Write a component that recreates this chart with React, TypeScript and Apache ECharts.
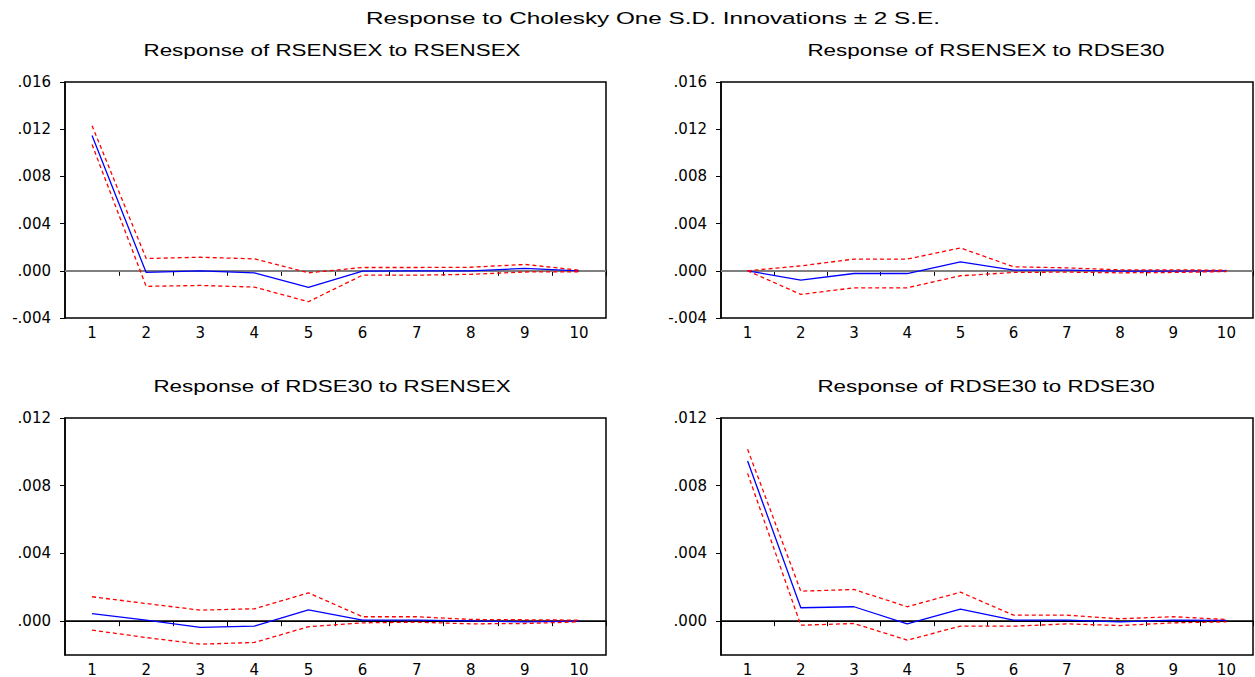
import React, { useEffect, useRef } from 'react';
import * as echarts from 'echarts';

const periods = ['1', '2', '3', '4', '5', '6', '7', '8', '9', '10'];

const mainTitle = 'Response to Cholesky One S.D. Innovations \u00b1 2 S.E.';
const panelTitles = [
  'Response of RSENSEX to RSENSEX',
  'Response of RSENSEX to RDSE30',
  'Response of RDSE30 to RSENSEX',
  'Response of RDSE30 to RDSE30',
];

// Panel 1: RSENSEX to RSENSEX
const p1Resp = [0.01146, -0.00014, 0.0, -0.00017, -0.0014, -0.00003, 0.0, 0.0, 0.0002, 0.0];
const p1Upper = [0.0123, 0.00104, 0.00115, 0.00101, -0.00017, 0.00028, 0.00028, 0.0003, 0.00054, 0.00005];
const p1Lower = [0.0107, -0.00132, -0.00124, -0.00138, -0.00262, -0.00037, -0.00037, -0.0003, -0.0001, -0.00008];

// Panel 2: RSENSEX to RDSE30
const p2Resp = [0.0, -0.00079, -0.00023, -0.00023, 0.00076, 0.00006, 0.00006, -0.00003, -0.00003, 0.0];
const p2Upper = [0.0, 0.00042, 0.00099, 0.00099, 0.00194, 0.00034, 0.00025, 0.00008, 0.00008, 0.00005];
const p2Lower = [0.0, -0.002, -0.00144, -0.00144, -0.00042, -0.00014, -0.00011, -0.00017, -0.00014, -0.00006];

// Panel 3: RDSE30 to RSENSEX
const p3Resp = [0.00045, 0.00006, -0.00037, -0.0003, 0.00067, 0.00006, 0.00006, 0.00002, -0.00004, 0.0];
const p3Upper = [0.00144, 0.00104, 0.00065, 0.00073, 0.00167, 0.00026, 0.00026, 0.0001, 0.00008, 0.00006];
const p3Lower = [-0.00053, -0.00097, -0.00136, -0.00126, -0.00033, -0.0001, -0.00006, -0.00016, -0.00014, -0.00004];

// Panel 4: RDSE30 to RDSE30
const p4Resp = [0.00946, 0.00079, 0.00085, -0.00016, 0.00071, 0.00006, 0.00006, -0.00004, 0.00006, 0.00004];
const p4Upper = [0.01015, 0.00177, 0.00187, 0.00085, 0.00171, 0.00035, 0.00035, 0.00014, 0.00026, 0.0001];
const p4Lower = [0.00873, -0.00024, -0.00014, -0.00112, -0.0003, -0.0003, -0.00016, -0.00026, -0.0001, -0.00004];

const bottomTicks = [0, 0.004, 0.008, 0.012];

const panels = [
  { resp: p1Resp, upper: p1Upper, lower: p1Lower },
  { resp: p2Resp, upper: p2Upper, lower: p2Lower },
  { resp: p3Resp, upper: p3Upper, lower: p3Lower },
  { resp: p4Resp, upper: p4Upper, lower: p4Lower },
];

const gridBoxes = [
  { left: 65, top: 82, width: 541, height: 236 },
  { left: 721, top: 82, width: 532, height: 236 },
  { left: 65, top: 418, width: 541, height: 237 },
  { left: 721, top: 418, width: 532, height: 237 },
];

const fmt = (v: number) => {
  if (Math.abs(v) < 1e-12) return '.000';
  return v.toFixed(3).replace('0.', '.');
};

const labelFont = 'DejaVu Sans';
const titleFont = 'Liberation Sans';

export default function App() {
  const ref = useRef<HTMLDivElement>(null);

  useEffect(() => {
    if (!ref.current) return;
    const chart = echarts.init(ref.current, undefined, { renderer: 'svg' });

    const grids: any[] = [];
    const xAxes: any[] = [];
    const yAxes: any[] = [];
    const series: any[] = [];

    panels.forEach((p, i) => {
      const top = i < 2;
      grids.push({
        ...gridBoxes[i],
        show: true,
        borderColor: '#000',
        borderWidth: 1.5,
        backgroundColor: 'transparent',
        containLabel: false,
      });
      xAxes.push({
        type: 'category',
        gridIndex: i,
        data: periods,
        boundaryGap: true,
        axisLine: { show: true, lineStyle: { color: '#000', width: 1.5 } },
        axisTick: { show: true, inside: false, length: 5, lineStyle: { color: '#000', width: 1 } },
        axisLabel: { color: '#000', fontFamily: labelFont, fontSize: 15, margin: 7 },
        splitLine: { show: false },
      });
      const yBase: any = {
        type: 'value',
        gridIndex: i,
        axisLine: { show: true, onZero: false, lineStyle: { color: '#000', width: 1.5 } },
        axisTick: { show: true, inside: false, length: 5, lineStyle: { color: '#000', width: 1 } },
        axisLabel: { color: '#000', fontFamily: labelFont, fontSize: 15, margin: 14, formatter: fmt },
        splitLine: { show: false },
      };
      if (top) {
        yAxes.push({ ...yBase, min: -0.004, max: 0.016, interval: 0.004 });
      } else {
        yAxes.push({
          ...yBase,
          min: -0.002,
          max: 0.012,
          interval: 0.002,
          axisLabel: { ...yBase.axisLabel, customValues: bottomTicks },
          axisTick: { ...yBase.axisTick, customValues: bottomTicks },
        });
      }
      const zeroStyle = top
        ? { color: '#7f7f7f', width: 2, type: 'solid' }
        : { color: '#000', width: 1, type: 'solid' };
      series.push({
        type: 'line',
        xAxisIndex: i,
        yAxisIndex: i,
        data: p.resp,
        symbol: 'none',
        lineStyle: { color: '#0000ff', width: 1.3 },
        z: 3,
        markLine: {
          silent: true,
          symbol: 'none',
          label: { show: false },
          lineStyle: zeroStyle,
          data: [{ yAxis: 0 }],
          z: 1,
        },
      });
      series.push({
        type: 'line',
        xAxisIndex: i,
        yAxisIndex: i,
        data: p.upper,
        symbol: 'none',
        lineStyle: { color: '#ff0000', width: 1.3, type: [4, 3] },
        z: 4,
      });
      series.push({
        type: 'line',
        xAxisIndex: i,
        yAxisIndex: i,
        data: p.lower,
        symbol: 'none',
        lineStyle: { color: '#ff0000', width: 1.3, type: [4, 3] },
        z: 4,
      });
    });

    const titlePos = [
      { x: 332, y: 50 },
      { x: 986, y: 50 },
      { x: 332, y: 386 },
      { x: 986, y: 386 },
    ];

    const graphic: any[] = [
      {
        type: 'text',
        x: 653,
        y: 18,
        scaleX: 1.43,
        style: {
          text: mainTitle,
          font: `17px "${titleFont}"`,
          fill: '#000',
          textAlign: 'center',
          textVerticalAlign: 'middle',
        },
      },
      ...panelTitles.map((t, i) => ({
        type: 'text',
        x: titlePos[i].x,
        y: titlePos[i].y,
        scaleX: 1.4,
        style: {
          text: t,
          font: `16px "${titleFont}"`,
          fill: '#000',
          textAlign: 'center',
          textVerticalAlign: 'middle',
        },
      })),
    ];

    chart.setOption({
      animation: false,
      backgroundColor: '#fff',
      grid: grids,
      xAxis: xAxes,
      yAxis: yAxes,
      series,
      graphic,
    });

    return () => chart.dispose();
  }, []);

  return (
    <div
      ref={ref}
      style={{ position: 'absolute', left: 0, top: 0, width: 1255, height: 677 }}
    />
  );
}
